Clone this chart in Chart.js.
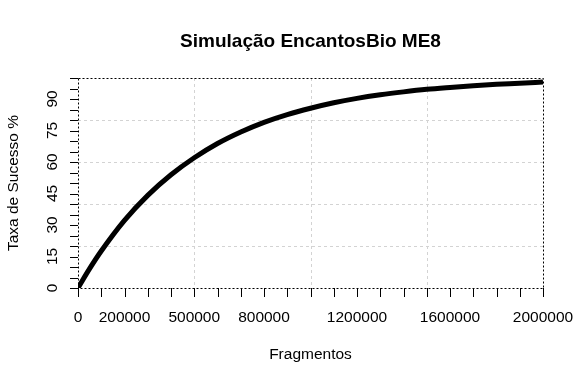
<!DOCTYPE html>
<html>
<head>
<meta charset="utf-8">
<script src="https://cdn.jsdelivr.net/npm/chart.js@4"></script>
<style>
  body { margin: 0; background: #fff; }
</style>
</head>
<body>
<canvas id="simChart" width="584" height="386"></canvas>
<script>
const fragmentos = [0, 50000, 100000, 200000, 300000, 400000, 500000, 600000, 700000, 800000, 900000,
  1000000, 1100000, 1200000, 1300000, 1400000, 1500000, 1600000, 1700000, 1800000, 1900000, 2000000];
const taxaSucesso = [0, 9.2, 17.6, 32.2, 44.1, 53.9, 62.0, 68.8, 74.3, 78.9, 82.6,
  85.6, 88.2, 90.3, 92.0, 93.4, 94.6, 95.5, 96.3, 97.0, 97.5, 98.1];
const xTickLabels = [0, 200000, 500000, 800000, 1200000, 1600000, 2000000];
const yTickLabels = [0, 15, 30, 45, 60, 75, 90];

const ctx = document.getElementById('simChart').getContext('2d');
const FONT = '"Liberation Sans", Arial, sans-serif';

// R-style axes, box and grid drawn on top of chart.js scales
const rStyle = {
  id: 'rStyle',
  beforeDatasetsDraw(chart) {
    const { ctx, chartArea: a, scales: { x, y } } = chart;
    ctx.save();
    ctx.strokeStyle = '#d3d3d3';
    ctx.lineWidth = 1;
    ctx.setLineDash([3, 3]);
    for (let v = 500000; v < 2000000; v += 500000) {
      const px = Math.round(x.getPixelForValue(v)) + 0.5;
      ctx.beginPath(); ctx.moveTo(px, a.top); ctx.lineTo(px, a.bottom); ctx.stroke();
    }
    for (let v = 20; v < 100; v += 20) {
      const py = Math.round(y.getPixelForValue(v)) + 0.5;
      ctx.beginPath(); ctx.moveTo(a.left, py); ctx.lineTo(a.right, py); ctx.stroke();
    }
    ctx.restore();
  },
  afterDraw(chart) {
    const { ctx, chartArea: a, scales: { x, y } } = chart;
    ctx.save();
    // dotted box
    ctx.strokeStyle = '#000';
    ctx.lineWidth = 1;
    ctx.setLineDash([2, 2]);
    ctx.strokeRect(Math.round(a.left) + 0.5, Math.round(a.top) + 0.5,
      Math.round(a.right - a.left), Math.round(a.bottom - a.top));
    ctx.setLineDash([]);

    // ticks
    ctx.beginPath();
    for (let v = 0; v <= 2000000; v += 100000) {
      const px = Math.round(x.getPixelForValue(v)) + 0.5;
      ctx.moveTo(px, a.bottom); ctx.lineTo(px, a.bottom + 9);
    }
    for (let v = 0; v <= 100; v += 5) {
      const py = Math.round(y.getPixelForValue(v)) + 0.5;
      ctx.moveTo(a.left, py); ctx.lineTo(a.left - 8, py);
    }
    ctx.stroke();

    // tick labels
    ctx.fillStyle = '#000';
    ctx.font = '15.5px ' + FONT;
    ctx.textAlign = 'center';
    ctx.textBaseline = 'middle';
    xTickLabels.forEach(v => {
      ctx.fillText(String(v), x.getPixelForValue(v), 318);
    });
    yTickLabels.forEach(v => {
      ctx.save();
      ctx.translate(52.5, y.getPixelForValue(v));
      ctx.rotate(-Math.PI / 2);
      ctx.fillText(String(v), 0, 0);
      ctx.restore();
    });

    // titles
    ctx.font = 'bold 19px ' + FONT;
    ctx.fillText('Simulação EncantosBio ME8', (a.left + a.right) / 2, 42);
    ctx.font = '15.5px ' + FONT;
    ctx.fillText('Fragmentos', (a.left + a.right) / 2, 355);
    ctx.save();
    ctx.translate(14, (a.top + a.bottom) / 2);
    ctx.rotate(-Math.PI / 2);
    ctx.fillText('Taxa de Sucesso %', 0, 0);
    ctx.restore();
    ctx.restore();
  }
};

new Chart(ctx, {
  type: 'line',
  data: {
    datasets: [{
      data: fragmentos.map((f, i) => ({ x: f, y: taxaSucesso[i] })),
      borderColor: '#000',
      borderWidth: 5,
      pointRadius: 0,
      fill: false,
      cubicInterpolationMode: 'monotone'
    }]
  },
  options: {
    responsive: false,
    animation: false,
    layout: { padding: { left: 78, right: 41, top: 78, bottom: 98 } },
    scales: {
      x: { type: 'linear', min: 0, max: 2000000, display: false },
      y: { type: 'linear', min: 0, max: 100, display: false }
    },
    plugins: {
      legend: { display: false },
      title: { display: false },
      tooltip: { enabled: false }
    }
  },
  plugins: [rStyle]
});
</script>
</body>
</html>
